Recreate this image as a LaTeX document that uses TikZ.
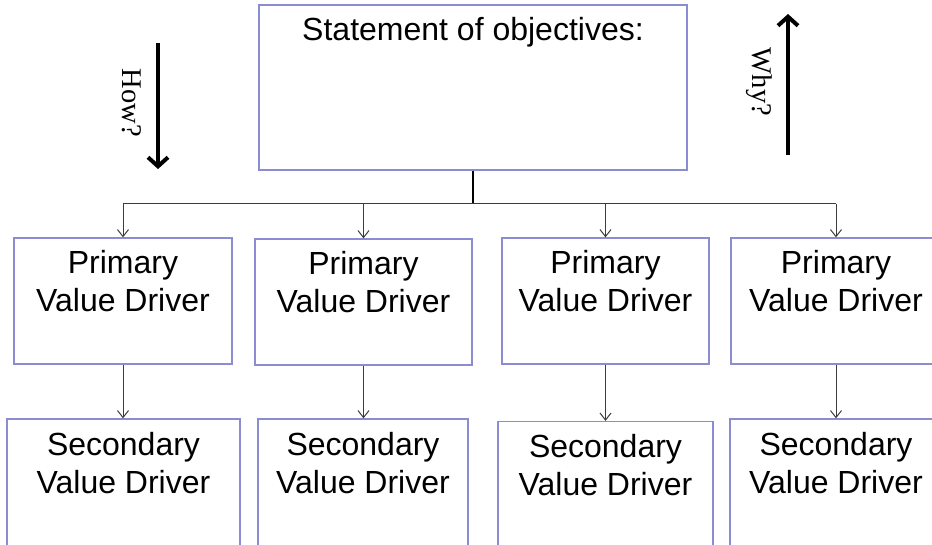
\documentclass[tikz,border=0pt]{standalone}
\usepackage{fontspec}
\setmainfont{Liberation Sans}
\newfontfamily\serifface{Liberation Serif}
\usetikzlibrary{arrows.meta}

\definecolor{boxline}{RGB}{140,140,210}
\definecolor{linkgray}{RGB}{60,60,60}

\begin{document}
\begin{tikzpicture}[x=1pt,y=-1pt,
  box/.style={draw=boxline, line width=1.3pt, inner sep=0pt, fill=white},
  boxtext/.style={anchor=north, font=\fontsize{32}{38}\selectfont, align=center, inner sep=0pt},
  link/.style={draw=linkgray, line width=1pt, -{Straight Barb[length=7pt,width=11pt]}},
  stub/.style={draw=black, line width=2pt},
  bigarrow/.style={line width=4pt, -{Straight Barb[length=9pt,width=20pt]}},
  vlabel/.style={font=\serifface\fontsize{28.5}{28.5}\selectfont, rotate=-90, inner sep=0pt}]

\clip (0,0) rectangle (932,544);

% objectives box
\node[box, minimum width=428pt, minimum height=165pt] (top) at (473,87.5) {};
\node[boxtext] (toptext) at ([yshift=-12.5pt]top.north) {Statement of objectives:};

% primary value drivers
\node[box, minimum width=218pt, minimum height=126pt] (p1) at (123,301) {};
\node[box, minimum width=217pt, minimum height=126pt] (p2) at (363.5,302) {};
\node[box, minimum width=207pt, minimum height=126pt] (p3) at (605.5,301) {};
\node[box, minimum width=210pt, minimum height=126pt] (p4) at (836,301) {};

% secondary value drivers
\node[box, minimum width=233pt, minimum height=141pt] (s1) at (123.5,489.5) {};
\node[box, minimum width=210pt, minimum height=141pt] (s2) at (363,489.5) {};
\node[box, minimum width=215pt, minimum height=141pt] (s3) at (605.5,492) {};
\node[box, minimum width=212pt, minimum height=141pt] (s4) at (836,489.5) {};

\foreach \b in {p1,p2,p3,p4}
  \node[boxtext] (\b text) at ([yshift=-13pt]\b.north) {Primary\\Value Driver};
\foreach \b in {s1,s2,s3,s4}
  \node[boxtext] (\b text) at ([yshift=-13.5pt]\b.north) {Secondary\\Value Driver};

% tree connectors
\draw[stub] (top.south) -- ++(0,33) coordinate (hub);
\draw[draw=linkgray, line width=1.4pt] (hub -| p1.north) -- (hub -| p4.north);
\foreach \b in {p1,p2,p3,p4}
  \draw[link] (hub -| \b.north) -- (\b.north);
\draw[link] (p1.south) -- (p1.south |- s1.north);
\draw[link] (p2.south) -- (p2.south |- s2.north);
\draw[link] (p3.south) -- (p3.south |- s3.north);
\draw[link] (p4.south) -- (p4.south |- s4.north);

% how / why direction arrows
\coordinate (howstart) at (158,43);
\coordinate (howend) at (158,169);
\coordinate (whystart) at (788,155);
\coordinate (whyend) at (788,14);
\draw[bigarrow] (howstart) -- (howend);
\draw[bigarrow] (whystart) -- (whyend);
\node[vlabel] (how) at (132,103) {How?};
\node[vlabel] (why) at (759,82) {Why?};

\end{tikzpicture}
\end{document}
